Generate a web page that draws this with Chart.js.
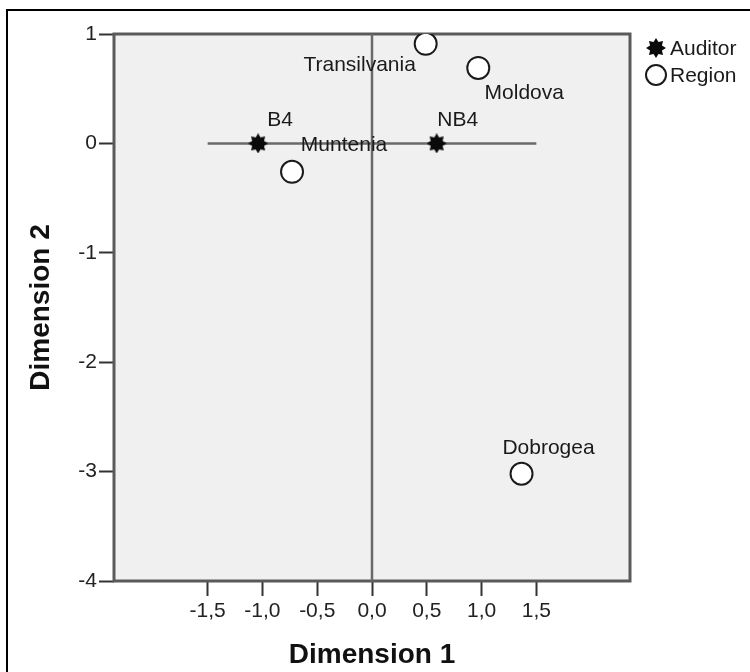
<!DOCTYPE html>
<html>
<head>
<meta charset="utf-8">
<script src="https://cdn.jsdelivr.net/npm/chart.js@4/dist/chart.umd.min.js"></script>
<style>
  html, body { margin: 0; padding: 0; background: #fff; }
  #wrap { width: 750px; height: 672px; }
</style>
</head>
<body>
<div id="wrap"><canvas id="corrPlot" width="750" height="672"></canvas></div>
<script>
// Row and column points (dimension 1 / dimension 2)
const auditorNames = ['B4', 'NB4'];
const auditorDim1 = [-1.04, 0.59];
const auditorDim2 = [0.0, 0.0];

const regionNames = ['Transilvania', 'Moldova', 'Muntenia', 'Dobrogea'];
const regionDim1 = [0.49, 0.97, -0.73, 1.365];
const regionDim2 = [0.91, 0.69, -0.26, -3.02];

const dim1Ticks = [-1.5, -1.0, -0.5, 0.0, 0.5, 1.0, 1.5];
const dim2Ticks = [1, 0, -1, -2, -3, -4];

// label placement around each marker (px)
const auditorLabelOffsets = [[22, -23], [21, -23]];
const regionLabelOffsets = [[-66, 21], [46, 25], [52, -27], [27, -26]];

const FONT = '"Liberation Sans", Arial, sans-serif';

// filled asterisk marker
function makeStar(size) {
    var c = document.createElement('canvas');
    c.width = size; c.height = size;
    var g = c.getContext('2d');
    var cx = size / 2, cy = size / 2, ro = size / 2, ri = size / 2 * 0.64;
    g.beginPath();
    for (var i = 0; i < 16; i++) {
        var r = i % 2 === 0 ? ro : ri;
        var a = -Math.PI / 2 + i * Math.PI / 8;
        var px = cx + r * Math.cos(a), py = cy + r * Math.sin(a);
        if (i === 0) g.moveTo(px, py); else g.lineTo(px, py);
    }
    g.closePath();
    g.fillStyle = '#0a0a0a';
    g.fill();
    return c;
}
var starImg = makeStar(20);

function toPoints(xs, ys) {
    return xs.map((x, i) => ({ x: x, y: ys[i] }));
}

// background, outer frame, plot box, point labels and legend
const plotDecor = {
    id: 'plotDecor',
    beforeDraw(chart) {
        var ctx = chart.ctx, a = chart.chartArea;
        ctx.save();
        ctx.fillStyle = '#fff';
        ctx.fillRect(0, 0, chart.width, chart.height);
        ctx.strokeStyle = '#000';
        ctx.lineWidth = 2;
        ctx.strokeRect(7, 10, chart.width + 20, chart.height + 20);
        ctx.fillStyle = '#f0f0f0';
        ctx.fillRect(a.left, a.top, a.right - a.left, a.bottom - a.top);
        ctx.restore();
    },
    beforeDatasetsDraw(chart) {
        var ctx = chart.ctx, a = chart.chartArea;
        ctx.save();
        ctx.strokeStyle = '#5a5a5a';
        ctx.lineWidth = 3;
        ctx.strokeRect(a.left, a.top, a.right - a.left, a.bottom - a.top);
        ctx.restore();
    },
    afterDatasetsDraw(chart) {
        var ctx = chart.ctx;
        ctx.save();
        ctx.font = '21px ' + FONT;
        ctx.fillStyle = '#1a1a1a';
        ctx.textAlign = 'center';
        ctx.textBaseline = 'middle';
        [0, 1].forEach(function (di) {
            var ds = chart.data.datasets[di];
            var meta = chart.getDatasetMeta(di);
            meta.data.forEach(function (pt, i) {
                var off = ds.labelOffsets[i];
                ctx.fillText(ds.names[i], pt.x + off[0], pt.y + off[1]);
            });
        });

        // legend
        ctx.textAlign = 'left';
        ctx.drawImage(starImg, 646, 38);
        ctx.fillText('Auditor', 670, 49);
        ctx.beginPath();
        ctx.arc(656, 75, 10, 0, Math.PI * 2);
        ctx.fillStyle = '#fff';
        ctx.fill();
        ctx.strokeStyle = '#1a1a1a';
        ctx.lineWidth = 2;
        ctx.stroke();
        ctx.fillStyle = '#1a1a1a';
        ctx.fillText('Region', 670, 76);
        ctx.restore();
    }
};

new Chart(document.getElementById('corrPlot'), {
    type: 'scatter',
    data: {
        datasets: [
            {
                label: 'Auditor',
                data: toPoints(auditorDim1, auditorDim2),
                names: auditorNames,
                labelOffsets: auditorLabelOffsets,
                pointStyle: starImg,
                pointRadius: 10
            },
            {
                label: 'Region',
                data: toPoints(regionDim1, regionDim2),
                names: regionNames,
                labelOffsets: regionLabelOffsets,
                pointStyle: 'circle',
                pointRadius: 11,
                backgroundColor: '#fff',
                borderColor: '#1a1a1a',
                borderWidth: 2
            },
            {
                // reference line through the origin, vertical
                type: 'line',
                data: [{ x: 0, y: 1 }, { x: 0, y: -4 }],
                borderColor: '#6a6a6a',
                borderWidth: 2.5,
                pointRadius: 0,
                fill: false
            },
            {
                // reference line through the origin, horizontal
                type: 'line',
                data: [{ x: -1.5, y: 0 }, { x: 1.5, y: 0 }],
                borderColor: '#6a6a6a',
                borderWidth: 2.5,
                pointRadius: 0,
                fill: false
            }
        ]
    },
    options: {
        responsive: false,
        animation: false,
        devicePixelRatio: 1,
        layout: { padding: { left: 0, right: 120, top: 34, bottom: 0 } },
        plugins: {
            legend: { display: false },
            tooltip: { enabled: false }
        },
        scales: {
            x: {
                type: 'linear',
                min: -2.355,
                max: 2.355,
                afterBuildTicks: function (scale) {
                    scale.ticks = dim1Ticks.map(v => ({ value: v }));
                },
                afterFit: function (scale) { scale.height = 91; },
                grid: {
                    drawOnChartArea: false,
                    tickLength: 15,
                    tickColor: '#333',
                    tickWidth: 2
                },
                border: { display: false },
                ticks: {
                    autoSkip: false,
                    maxRotation: 0,
                    padding: 3,
                    color: '#222',
                    font: { family: FONT, size: 21 },
                    callback: function (v) { return v.toFixed(1).replace('.', ','); }
                },
                title: {
                    display: true,
                    text: 'Dimension 1',
                    color: '#111',
                    font: { family: FONT, size: 28, weight: 'bold' },
                    padding: { top: 0, bottom: 0 }
                }
            },
            y: {
                type: 'linear',
                min: -4,
                max: 1,
                afterBuildTicks: function (scale) {
                    scale.ticks = dim2Ticks.map(v => ({ value: v }));
                },
                afterFit: function (scale) { scale.width = 114; },
                grid: {
                    drawOnChartArea: false,
                    tickLength: 15,
                    tickColor: '#333',
                    tickWidth: 2
                },
                border: { display: false },
                ticks: {
                    autoSkip: false,
                    padding: 2,
                    color: '#222',
                    font: { family: FONT, size: 21 },
                    callback: function (v) { return String(v); }
                },
                title: {
                    display: true,
                    text: 'Dimension 2',
                    color: '#111',
                    font: { family: FONT, size: 28, weight: 'bold' },
                    padding: { top: 24, bottom: 0 }
                }
            }
        }
    },
    plugins: [plotDecor]
});
</script>
</body>
</html>
